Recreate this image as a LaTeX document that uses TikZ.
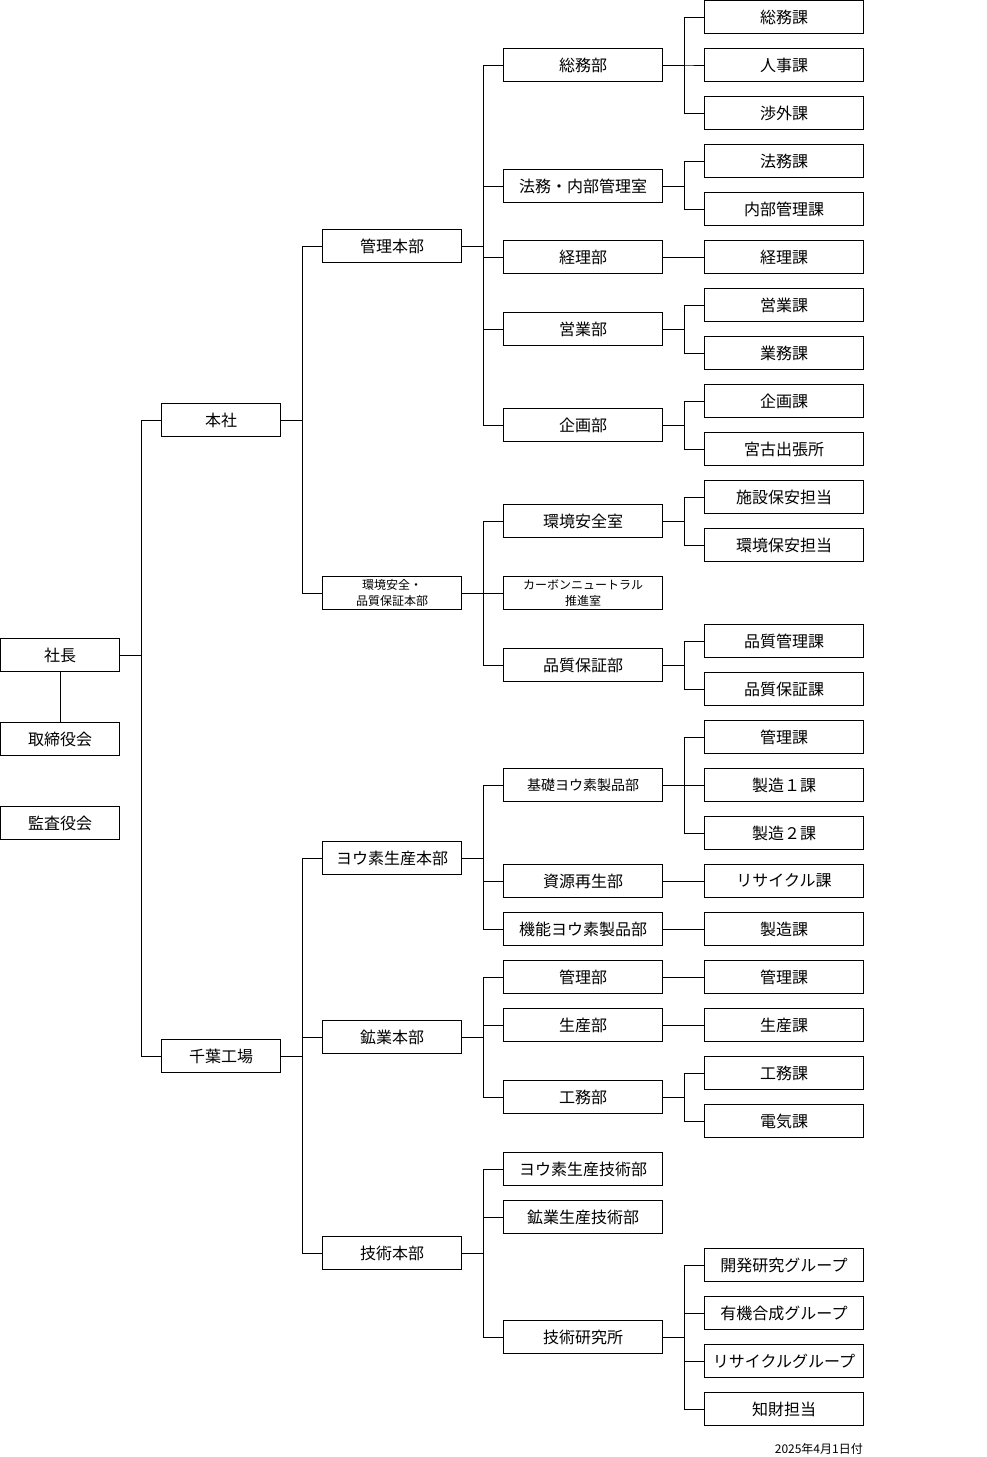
\documentclass[tikz,border=0pt]{standalone}
\usepackage{fontspec}
\setmainfont{Noto Sans CJK JP}
\usepackage{tikz}

\begin{document}
\begin{tikzpicture}[x=1pt, y=-1pt,
    box/.style={draw, line width=1pt, fill=white, minimum height=33, inner sep=0pt, font=\fontsize{16}{18}\selectfont},
    smallbox/.style={box, align=center, font=\fontsize{12}{16}\selectfont},
    headbox/.style={box, minimum width=119},
    hqbox/.style={box, minimum width=139},
    deptbox/.style={box, minimum width=159},
    link/.style={line width=1pt}]
            \fill[white] (0,0) rectangle (986,1457);
            \useasboundingbox (0,0) rectangle (986,1457);

            % top
            \node[headbox] (sha) at (60, 655) {社長};
            \node[headbox] (tori) at (60, 739) {取締役会};
            \node[headbox] (kansa) at (60, 823) {監査役会};
            \node[headbox] (honsha) at (221, 420) {本社};
            \node[headbox] (chiba) at (221, 1056) {千葉工場};

            % hombu
            \node[hqbox] (kanri) at (392, 246) {管理本部};
            \node[hqbox, smallbox] (kankyo) at (392, 593) {環境安全・\\品質保証本部};
            \node[hqbox] (youso) at (392, 858) {ヨウ素生産本部};
            \node[hqbox] (kogyo) at (392, 1037) {鉱業本部};
            \node[hqbox] (gijutsu) at (392, 1253) {技術本部};

            % bu
            \node[deptbox] (somu) at (583, 65) {総務部};
            \node[deptbox] (homu) at (583, 186) {法務・内部管理室};
            \node[deptbox] (keiri) at (583, 257) {経理部};
            \node[deptbox] (eigyo) at (583, 329) {営業部};
            \node[deptbox] (kikaku) at (583, 425) {企画部};
            \node[deptbox] (ansen) at (583, 521) {環境安全室};
            \node[deptbox, smallbox] (cn) at (583, 593) {カーボンニュートラル\\推進室};
            \node[deptbox, font=\fontsize{14}{16}\selectfont] (kiso) at (583, 785) {基礎ヨウ素製品部};
            \node[deptbox] (hinsho) at (583, 665) {品質保証部};
            \node[deptbox] (shigen) at (583, 881) {資源再生部};
            \node[deptbox] (kino) at (583, 929) {機能ヨウ素製品部};
            \node[deptbox] (kanribu) at (583, 977) {管理部};
            \node[deptbox] (seisan) at (583, 1025) {生産部};
            \node[deptbox] (komu) at (583, 1097) {工務部};
            \node[deptbox] (ytech) at (583, 1169) {ヨウ素生産技術部};
            \node[deptbox] (ktech) at (583, 1217) {鉱業生産技術部};
            \node[deptbox] (kenkyu) at (583, 1337) {技術研究所};

            % ka
            \node[deptbox] (somuka) at (784, 17) {総務課};
            \node[deptbox] (jinji) at (784, 65) {人事課};
            \node[deptbox] (shogai) at (784, 113) {渉外課};
            \node[deptbox] (homuka) at (784, 161) {法務課};
            \node[deptbox] (naibu) at (784, 209) {内部管理課};
            \node[deptbox] (keirika) at (784, 257) {経理課};
            \node[deptbox] (eigyoka) at (784, 305) {営業課};
            \node[deptbox] (gyomu) at (784, 353) {業務課};
            \node[deptbox] (kikakuka) at (784, 401) {企画課};
            \node[deptbox] (miyako) at (784, 449) {宮古出張所};
            \node[deptbox] (shisetsu) at (784, 497) {施設保安担当};
            \node[deptbox] (kankyoho) at (784, 545) {環境保安担当};
            \node[deptbox] (hinkan) at (784, 641) {品質管理課};
            \node[deptbox] (hinshoka) at (784, 689) {品質保証課};
            \node[deptbox] (kanrika) at (784, 737) {管理課};
            \node[deptbox] (seizo1) at (784, 785) {製造１課};
            \node[deptbox] (seizo2) at (784, 833) {製造２課};
            \node[deptbox] (recycle) at (784, 881) {リサイクル課};
            \node[deptbox] (seizoka) at (784, 929) {製造課};
            \node[deptbox] (kanrika2) at (784, 977) {管理課};
            \node[deptbox] (seisanka) at (784, 1025) {生産課};
            \node[deptbox] (komuka) at (784, 1073) {工務課};
            \node[deptbox] (denki) at (784, 1121) {電気課};
            \node[deptbox] (kaihatsu) at (784, 1265) {開発研究グループ};
            \node[deptbox] (yuki) at (784, 1313) {有機合成グループ};
            \node[deptbox] (recyg) at (784, 1361) {リサイクルグループ};
            \node[deptbox] (chizai) at (784, 1409) {知財担当};

            \node[anchor=east, inner sep=0pt, font=\fontsize{12}{14}\selectfont] (date) at (863, 1449) {2025年4月1日付};

            % lines
            \draw[link] (sha) -- (tori);
            \draw[link] (sha.east) -- ++(21,0) |- (honsha.west);
            \draw[link] (sha.east) -- ++(21,0) |- (chiba.west);

            \draw[link] (honsha.east) -- ++(21,0) |- (kanri.west);
            \draw[link] (honsha.east) -- ++(21,0) |- (kankyo.west);
            \draw[link] (chiba.east) -- ++(21,0) |- (youso.west);
            \draw[link] (chiba.east) -- ++(21,0) |- (kogyo.west);
            \draw[link] (chiba.east) -- ++(21,0) |- (gijutsu.west);

            \draw[link] (kanri.east) -- ++(21,0) |- (somu.west);
            \draw[link] (kanri.east) -- ++(21,0) |- (homu.west);
            \draw[link] (kanri.east) -- ++(21,0) |- (keiri.west);
            \draw[link] (kanri.east) -- ++(21,0) |- (eigyo.west);
            \draw[link] (kanri.east) -- ++(21,0) |- (kikaku.west);
            \draw[link] (kankyo.east) -- ++(21,0) |- (ansen.west);
            \draw[link] (kankyo.east) -- (cn.west);
            \draw[link] (kankyo.east) -- ++(21,0) |- (hinsho.west);
            \draw[link] (youso.east) -- ++(21,0) |- (kiso.west);
            \draw[link] (youso.east) -- ++(21,0) |- (shigen.west);
            \draw[link] (youso.east) -- ++(21,0) |- (kino.west);
            \draw[link] (kogyo.east) -- ++(21,0) |- (kanribu.west);
            \draw[link] (kogyo.east) -- ++(21,0) |- (seisan.west);
            \draw[link] (kogyo.east) -- ++(21,0) |- (komu.west);
            \draw[link] (gijutsu.east) -- ++(21,0) |- (ytech.west);
            \draw[link] (gijutsu.east) -- ++(21,0) |- (ktech.west);
            \draw[link] (gijutsu.east) -- ++(21,0) |- (kenkyu.west);

            \draw[link] (somu.east) -- ++(21,0) |- (somuka.west);
            \draw[link] (somu.east) -- ++(21,0) |- (jinji.west);
            \draw[link] (somu.east) -- ++(21,0) |- (shogai.west);
            \draw[link] (homu.east) -- ++(21,0) |- (homuka.west);
            \draw[link] (homu.east) -- ++(21,0) |- (naibu.west);
            \draw[link] (keiri.east) -- (keirika.west);
            \draw[link] (eigyo.east) -- ++(21,0) |- (eigyoka.west);
            \draw[link] (eigyo.east) -- ++(21,0) |- (gyomu.west);
            \draw[link] (kikaku.east) -- ++(21,0) |- (kikakuka.west);
            \draw[link] (kikaku.east) -- ++(21,0) |- (miyako.west);
            \draw[link] (ansen.east) -- ++(21,0) |- (shisetsu.west);
            \draw[link] (ansen.east) -- ++(21,0) |- (kankyoho.west);
            \draw[link] (hinsho.east) -- ++(21,0) |- (hinkan.west);
            \draw[link] (hinsho.east) -- ++(21,0) |- (hinshoka.west);
            \draw[link] (kiso.east) -- ++(21,0) |- (kanrika.west);
            \draw[link] (kiso.east) -- ++(21,0) |- (seizo1.west);
            \draw[link] (kiso.east) -- ++(21,0) |- (seizo2.west);
            \draw[link] (shigen.east) -- (recycle.west);
            \draw[link] (kino.east) -- (seizoka.west);
            \draw[link] (kanribu.east) -- (kanrika2.west);
            \draw[link] (seisan.east) -- (seisanka.west);
            \draw[link] (komu.east) -- ++(21,0) |- (komuka.west);
            \draw[link] (komu.east) -- ++(21,0) |- (denki.west);
            \draw[link] (kenkyu.east) -- ++(21,0) |- (kaihatsu.west);
            \draw[link] (kenkyu.east) -- ++(21,0) |- (yuki.west);
            \draw[link] (kenkyu.east) -- ++(21,0) |- (recyg.west);
            \draw[link] (kenkyu.east) -- ++(21,0) |- (chizai.west);
        \end{tikzpicture}
\end{document}
